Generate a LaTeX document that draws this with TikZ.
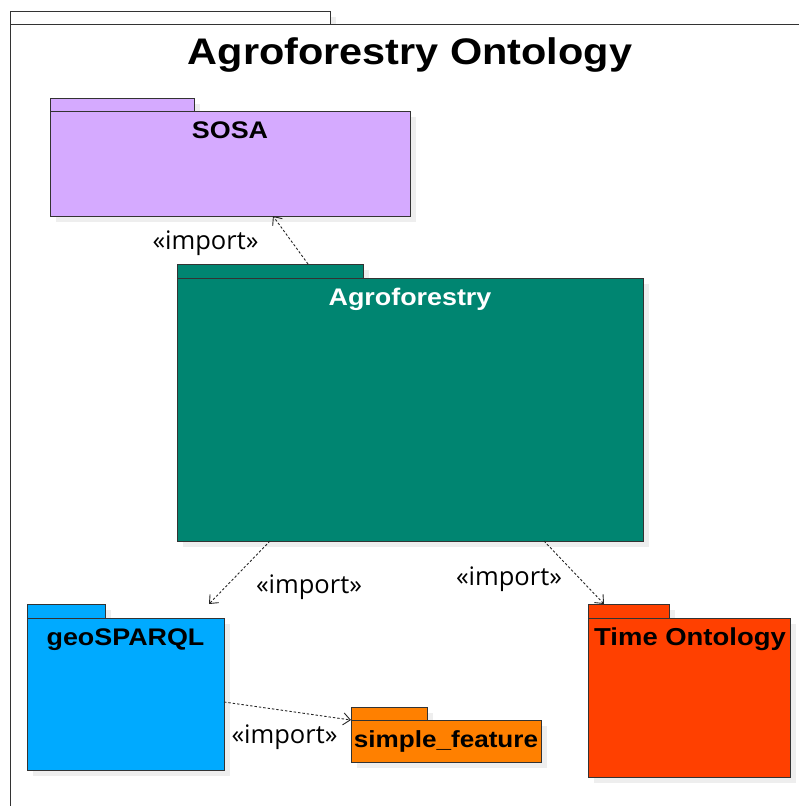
\documentclass[tikz,border=0pt]{standalone}
\usepackage{fontspec}
\setmainfont{Liberation Sans}
\newfontfamily\pkfont[FakeStretch=1.12]{Liberation Sans}
\newfontfamily\impfont{Open Sans}
\usetikzlibrary{arrows.meta,calc,shadows}
\definecolor{shadowc}{HTML}{EEEEEE}
\definecolor{edgec}{HTML}{333333}
\definecolor{sosac}{HTML}{D5AAFF}
\definecolor{agroc}{HTML}{008571}
\definecolor{geoc}{HTML}{00AAFF}
\definecolor{timec}{HTML}{FF4000}
\definecolor{sfc}{HTML}{FF8000}
\begin{document}
\begin{tikzpicture}[x=1pt,y=-1pt,
  box/.style={draw=edgec, line width=0.9pt, inner sep=0pt, outer sep=0pt, anchor=north west,
     drop shadow={shadow xshift=6pt, shadow yshift=-6pt, fill=shadowc, opacity=1}},
  pklabel/.style={anchor=base, inner sep=0pt, font=\pkfont\bfseries\fontsize{24}{28}\selectfont},
  titletext/.style={anchor=base, inner sep=0pt, font=\pkfont\bfseries\fontsize{37}{42}\selectfont},
  implabel/.style={anchor=base, inner sep=0pt, font=\impfont\fontsize{25.5}{30}\selectfont},
  imp/.style={draw=black!85, line width=0.9pt, dash pattern=on 2.4pt off 2pt,
     -{Straight Barb[length=7pt,width=12pt,line width=0.9pt]}}]
\useasboundingbox (0,0) rectangle (799,806);
% outer frame
\node[box, fill=white, minimum width=320pt, minimum height=13pt] (frametab) at (10,11) {};
\node[box, fill=white, minimum width=800pt, minimum height=800pt] (frame) at (10,24) {};
\node[titletext] (title) at (410,64) {Agroforestry Ontology};
% SOSA
\node[box, fill=sosac, minimum width=144pt, minimum height=13pt] (sosatab) at (50,98) {};
\node[box, fill=sosac, minimum width=360pt, minimum height=105pt] (sosa) at (50,111) {};
\node[pklabel] (sosalabel) at ($(sosa.north)+(0,27.5)$) {SOSA};
% Agroforestry
\node[box, fill=agroc, minimum width=186pt, minimum height=14pt] (agrotab) at (177,264) {};
\node[box, fill=agroc, minimum width=466pt, minimum height=263pt] (agro) at (177,278) {};
\node[pklabel, text=white] (agrolabel) at ($(agro.north)+(0,27.5)$) {Agroforestry};
% geoSPARQL
\node[box, fill=geoc, minimum width=78pt, minimum height=14pt] (geotab) at (27,604) {};
\node[box, fill=geoc, minimum width=197pt, minimum height=152pt] (geo) at (27,618) {};
\node[pklabel] (geolabel) at ($(geo.north)+(0,27.5)$) {geoSPARQL};
% Time Ontology
\node[box, fill=timec, minimum width=81pt, minimum height=14pt] (timetab) at (588,604) {};
\node[box, fill=timec, minimum width=202pt, minimum height=159pt] (time) at (588,618) {};
\node[pklabel, font=\pkfont\bfseries\fontsize{24.5}{28}\selectfont] (timelabel) at ($(time.north)+(1,27.5)$) {Time Ontology};
% simple_feature
\node[box, fill=sfc, minimum width=76pt, minimum height=13pt] (sftab) at (351,707) {};
\node[box, fill=sfc, minimum width=190pt, minimum height=42pt] (sf) at (351,720) {};
\node[pklabel, font=\pkfont\bfseries\fontsize{23.3}{28}\selectfont] (sflabel) at ($(sf.north)+(0,27)$) {simple\_feature};
% import dependencies
\draw[imp] ($(agrotab.north west)+(131,0)$) -- ($(sosa.south west)+(223,0)$);
\draw[imp] ($(agro.south west)+(93,0)$) -- ($(geotab.north west)+(182,0)$);
\draw[imp] ($(agro.south west)+(367,0)$) -- ($(timetab.north west)+(16,0)$);
\draw[imp] ($(geo.north east)+(0,84)$) -- (sf.north west);
\node[implabel] (imp1) at (205.5,249) {«import»};
\node[implabel] (imp2) at (309,593) {«import»};
\node[implabel] (imp3) at (509,585) {«import»};
\node[implabel] (imp4) at (284.5,743) {«import»};
\end{tikzpicture}
\end{document}
